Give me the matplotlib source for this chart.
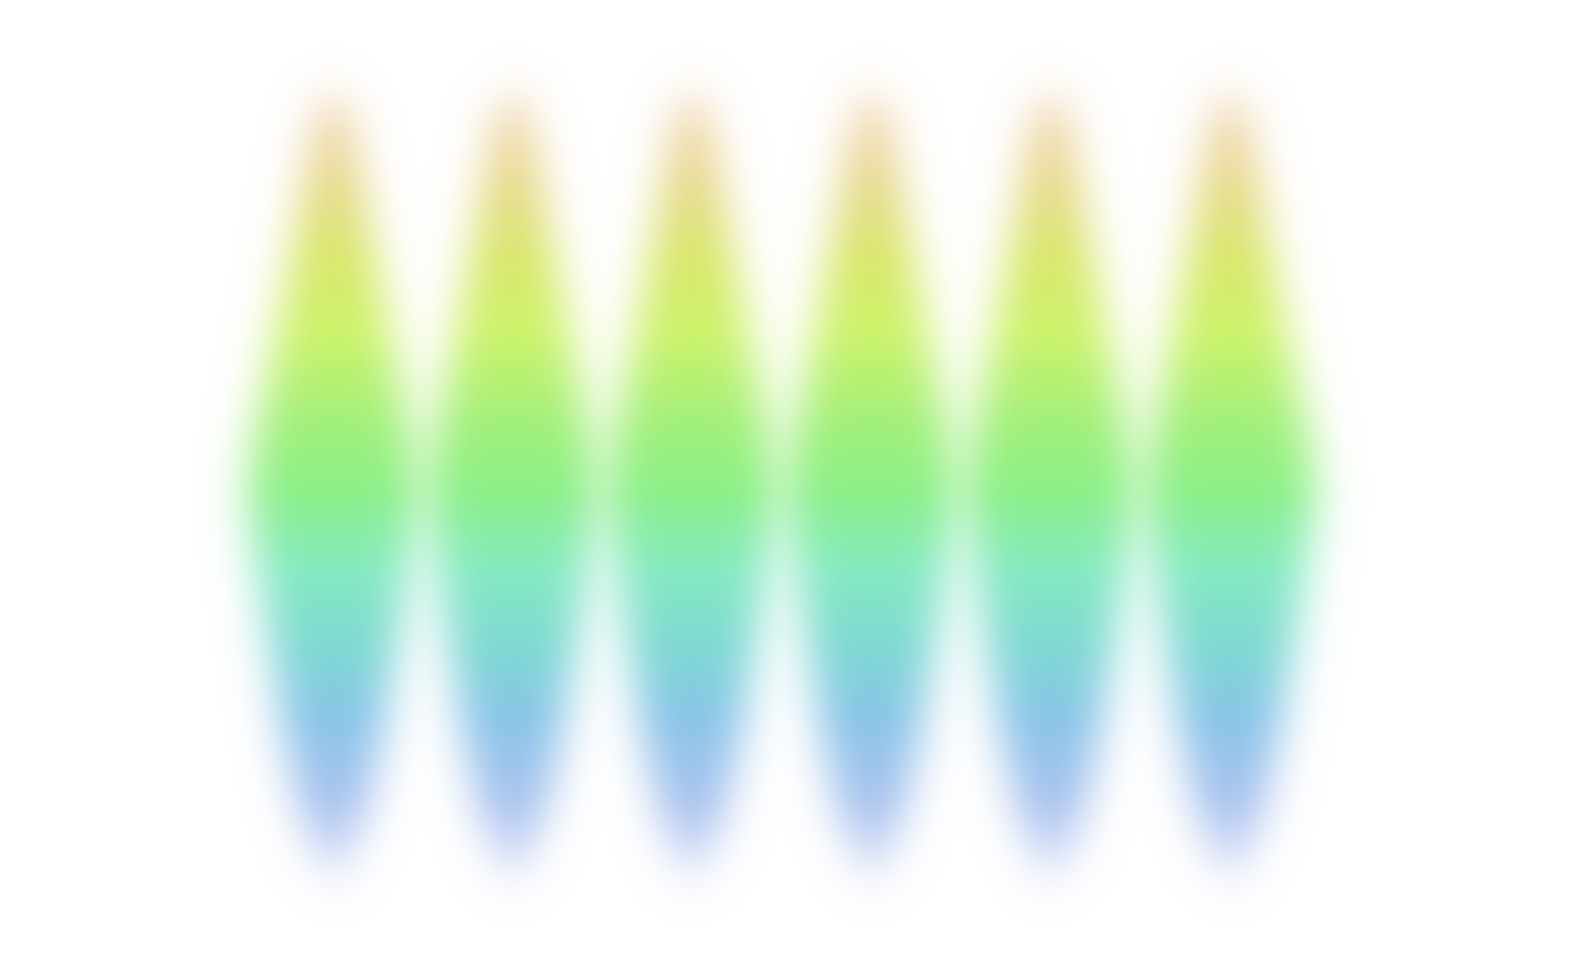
import numpy as np
import matplotlib
matplotlib.use("Agg")
import matplotlib.pyplot as plt
from matplotlib.colors import LinearSegmentedColormap, to_rgb

# six identical violins
categories = ["A", "B", "C", "D", "E", "F"]
positions = np.arange(len(categories))

# violin outline: value level (top = 85) -> half width in category units
profile_level = [85, 120, 160, 260, 350, 450, 495, 560, 650, 750, 820, 860, 885]
profile_halfw = [0.0, 0.08, 0.14, 0.24, 0.34, 0.45, 0.48, 0.43, 0.35, 0.26, 0.17, 0.07, 0.0]

# gradient colours down the violin
grad_level = [90, 160, 260, 330, 427, 490, 570, 650, 720, 800, 880]
grad_colors = ["#ecc48e", "#e8d488", "#d8e868", "#cdf36a", "#a0f07a", "#8cf088",
               "#84eac0", "#7ed8d4", "#88c4e8", "#a4c0ee", "#c4d0f4"]

W, H = 1577, 977
xlim = (-333 / 179.4, (W - 333) / 179.4)
ylim = (H, 0)


def blur(img, sigma):
    r = int(3 * sigma)
    k = np.exp(-0.5 * (np.arange(-r, r + 1) / sigma) ** 2)
    k /= k.sum()
    out = np.array([np.convolve(row, k, mode="same") for row in img])
    out = np.array([np.convolve(col, k, mode="same") for col in out.T]).T
    return out


xs = np.linspace(xlim[0], xlim[1], W)
ys = np.linspace(0, H, H)
X, Y = np.meshgrid(xs, ys)
hw = np.interp(ys, profile_level, profile_halfw, left=0, right=0)[:, None]

alpha = np.zeros((H, W))
for p in positions:
    mask = (np.abs(X - p) < hw).astype(float)
    a = blur(mask, 22)
    alpha = 1 - (1 - alpha) * (1 - a)

lv = (ys - grad_level[0]) / (grad_level[-1] - grad_level[0])
stops = [(g - grad_level[0]) / (grad_level[-1] - grad_level[0]) for g in grad_level]
cmap = LinearSegmentedColormap.from_list("g", list(zip(stops, [to_rgb(c) for c in grad_colors])))
rgb = cmap(np.clip(lv, 0, 1))[:, :3]
rgba = np.zeros((H, W, 4))
rgba[..., :3] = rgb[:, None, :]
rgba[..., 3] = np.clip(alpha, 0, 1)

fig = plt.figure(figsize=(W / 100, H / 100), dpi=100)
ax = fig.add_axes([0, 0, 1, 1])
ax.imshow(rgba, extent=(xlim[0], xlim[1], ylim[0], ylim[1]), aspect="auto",
          interpolation="bilinear")
ax.set_xlim(xlim)
ax.set_ylim(ylim)
ax.axis("off")
fig.savefig("out.png", dpi=100, facecolor="white")
